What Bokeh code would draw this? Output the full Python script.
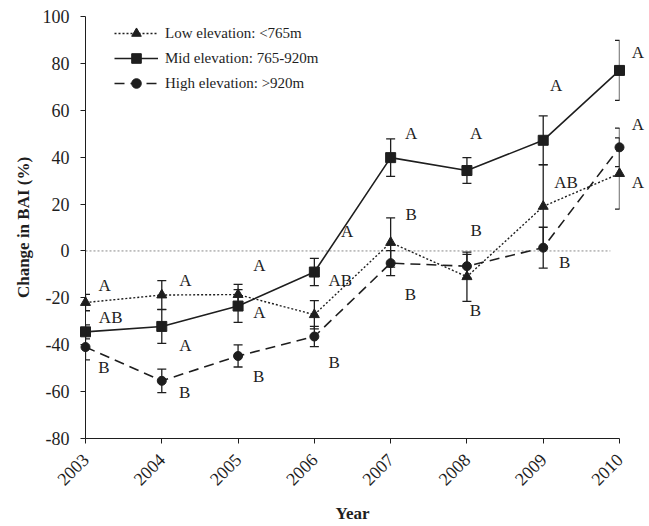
import math
from bokeh.plotting import figure
from bokeh.models import (ColumnDataSource, Range1d, FixedTicker, Whisker,
                          Legend, LegendItem, TeeHead)
from bokeh.core.properties import value
from bokeh.embed import file_html
from bokeh.resources import INLINE

# ---------------- data ----------------
years = [2003, 2004, 2005, 2006, 2007, 2008, 2009, 2010]

low = [-22.0, -18.8, -18.6, -27.2, 3.6, -11.0, 19.0, 33.0]
low_err = [3.5, 6.1, 4.3, 6.0, 10.5, 10.5, 17.7, 15.2]

mid = [-34.5, -32.2, -23.5, -9.0, 39.8, 34.3, 47.2, 77.0]
mid_err = [3.0, 7.2, 7.0, 5.8, 8.0, 5.5, 10.4, 12.8]

high = [-41.0, -55.4, -44.8, -36.5, -5.2, -6.5, 1.4, 44.2]
high_err = [5.5, 5.0, 4.7, 4.3, 5.3, 5.0, 8.7, 8.2]

series_names = ["Low elevation: <765m", "Mid elevation: 765-920m", "High elevation: >920m"]

# significance letters and where they sit (year offset, value)
low_letters = ["A", "A", "A", "AB", "B", "B", "AB", "A"]
low_letter_dx = [0.25, 0.31, 0.28, 0.34, 0.27, 0.12, 0.30, 0.24]
low_letter_y = [-14.7, -12.5, -6.0, -12.5, 15.7, 8.8, 29.2, 29.2]

mid_letters = ["AB", "A", "A", "A", "A", "A", "A", "A"]
mid_letter_dx = [0.33, 0.31, 0.28, 0.43, 0.27, 0.12, 0.17, 0.24]
mid_letter_y = [-28.5, -40.3, -26.4, 8.5, 49.9, 49.9, 70.5, 84.7]

high_letters = ["B", "B", "B", "B", "B", "B", "B", "A"]
high_letter_dx = [0.24, 0.30, 0.27, 0.26, 0.26, 0.11, 0.28, 0.24]
high_letter_y = [-49.6, -60.5, -53.4, -47.7, -18.5, -25.6, -5.0, 53.8]

y_ticks = [-80, -60, -40, -20, 0, 20, 40, 60, 80, 100]
y_tick_labels = ["-80", "-60", "-40", "-20", "0", "20", "40", "60", "80", "100"]

# ---------------- styling ----------------
SERIF = "Liberation Serif"
INK = "#1e1e1e"

p = figure(width=649, height=526, output_backend="svg", toolbar_location=None, title=None,
           x_range=Range1d(2003, 2010), y_range=Range1d(-80, 100),
           min_border_left=85, min_border_right=30, min_border_top=16, min_border_bottom=88)
p.outline_line_color = None
p.grid.visible = False
p.background_fill_color = "white"

for ax in (p.xaxis[0], p.yaxis[0]):
    ax.axis_line_color = INK
    ax.axis_line_width = 1
    ax.major_tick_line_color = INK
    ax.major_tick_in = 0
    ax.major_tick_out = 5
    ax.minor_tick_line_color = None
    ax.major_label_text_font = SERIF
    ax.major_label_text_font_size = "18px"
    ax.major_label_text_color = INK
    ax.axis_label_text_font = SERIF
    ax.axis_label_text_font_size = "17px"
    ax.axis_label_text_font_style = "bold"
    ax.axis_label_text_color = INK

p.xaxis.ticker = FixedTicker(ticks=years)
p.xaxis.major_label_orientation = math.pi / 4
p.xaxis.major_label_standoff = 13
p.xaxis.axis_label = "Year"
p.xaxis.axis_label_standoff = 10

p.yaxis.ticker = FixedTicker(ticks=y_ticks)
p.yaxis.major_label_overrides = {t: s for t, s in zip(y_ticks, y_tick_labels)}
p.yaxis.major_label_standoff = 11
p.yaxis.axis_label = "Change in BAI (%)"
p.yaxis.axis_label_standoff = 7

# zero reference line
p.segment(x0=[years[0]], x1=[years[-1] - 0.12], y0=[0], y1=[0],
          line_color="#8a8a8a", line_width=1, line_dash="2 2")

src = ColumnDataSource(dict(
    x=years,
    low=low, low_up=[v + e for v, e in zip(low, low_err)], low_lo=[v - e for v, e in zip(low, low_err)],
    mid=mid, mid_up=[v + e for v, e in zip(mid, mid_err)], mid_lo=[v - e for v, e in zip(mid, mid_err)],
    high=high, high_up=[v + e for v, e in zip(high, high_err)], high_lo=[v - e for v, e in zip(high, high_err)],
))

r_low_line = p.line("x", "low", source=src, line_color=INK, line_width=1.4, line_dash="2 2")
r_mid_line = p.line("x", "mid", source=src, line_color=INK, line_width=1.6)
r_high_line = p.line("x", "high", source=src, line_color=INK, line_width=1.6, line_dash="10 6")

for key in ("low", "mid", "high"):
    w = Whisker(source=src, base="x", upper=key + "_up", lower=key + "_lo", dimension="height",
                line_color=INK, line_width=1.3, level="overlay",
                upper_head=TeeHead(size=9, line_color=INK, line_width=1.3),
                lower_head=TeeHead(size=9, line_color=INK, line_width=1.3))
    p.add_layout(w)

r_low_pts = p.scatter("x", "low", source=src, marker="triangle", size=10,
                      fill_color=INK, line_color=INK, level="overlay")
r_mid_pts = p.scatter("x", "mid", source=src, marker="square", size=10,
                      fill_color=INK, line_color=INK, level="overlay")
r_high_pts = p.scatter("x", "high", source=src, marker="circle", size=9,
                       fill_color=INK, line_color=INK, level="overlay")

# letters
lx, ly, lt = [], [], []
for letters, dx, yy in ((low_letters, low_letter_dx, low_letter_y),
                        (mid_letters, mid_letter_dx, mid_letter_y),
                        (high_letters, high_letter_dx, high_letter_y)):
    for yr, t, d, v in zip(years, letters, dx, yy):
        lx.append(yr + d)
        ly.append(v)
        lt.append(t)
lab_src = ColumnDataSource(dict(x=lx, y=ly, t=lt))
p.text(x="x", y="y", text="t", source=lab_src, text_font=value(SERIF),
       text_font_size="17px", text_color=INK, text_align="center",
       text_baseline="middle", level="overlay")

legend = Legend(items=[
    LegendItem(label=series_names[0], renderers=[r_low_line, r_low_pts]),
    LegendItem(label=series_names[1], renderers=[r_mid_line, r_mid_pts]),
    LegendItem(label=series_names[2], renderers=[r_high_line, r_high_pts]),
], location=(29, 343), margin=0, padding=4, spacing=1,
    glyph_width=44, glyph_height=24, label_standoff=7,
    label_text_font=SERIF, label_text_font_size="15px", label_text_color=INK,
    border_line_color=None, background_fill_alpha=0)
p.add_layout(legend)

open("out.html", "w").write(file_html(p, INLINE))
